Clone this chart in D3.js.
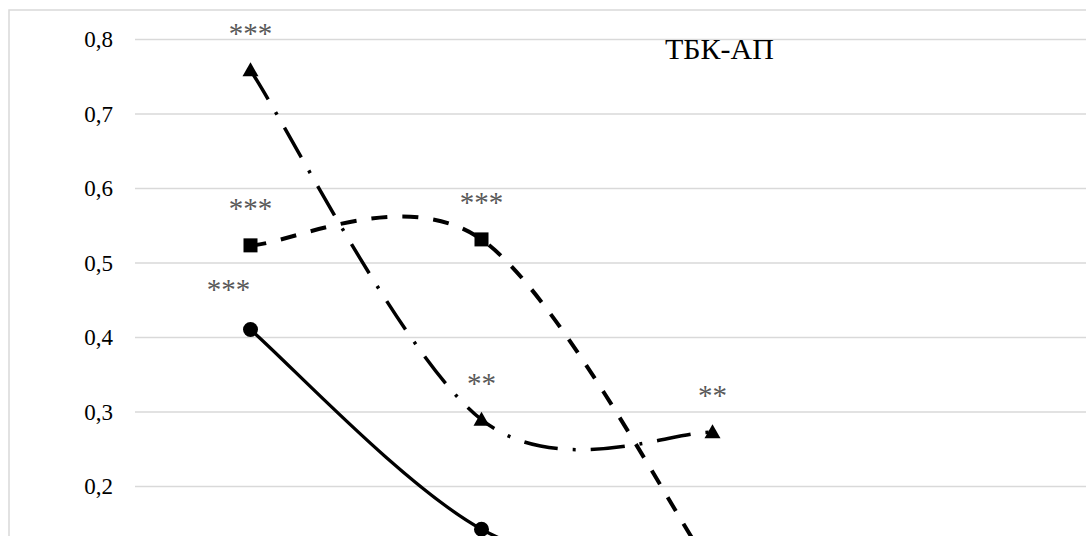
<!DOCTYPE html>
<html>
<head>
<meta charset="utf-8">
<script src="https://cdn.jsdelivr.net/npm/d3@7"></script>
<style>
  html, body { margin: 0; padding: 0; background: #fff; overflow: hidden; }
  svg { display: block; }
  svg text { font-family: "Times New Roman", "Liberation Serif", serif !important; }
</style>
</head>
<body>
<svg id="chart" width="1086" height="536"></svg>
<script>
// ---- data ----
const categories = ["1", "2", "3", "4", "5"];
const yTicks = [0.2, 0.3, 0.4, 0.5, 0.6, 0.7, 0.8];
const circleValues   = [0.41, 0.142, 0.067, null, null];
const squareValues   = [0.523, 0.531, 0.087, null, null];
const triangleValues = [0.758, 0.289, 0.272, null, null];
const circleLabels   = ["***", "", "", "", ""];
const squareLabels   = ["***", "***", "", "", ""];
const triangleLabels = ["***", "**", "**", "", ""];
const chartTitle = "ТБК-АП";

// ---- layout ----
const svg = d3.select("#chart");
const plotLeft = 135, band = 231;
const x = d3.scaleBand().domain(categories).range([plotLeft, plotLeft + band * categories.length]).padding(0);
const cx = c => x(c) + x.bandwidth() / 2;
const y = d3.scaleLinear().domain([0, 0.8]).range([635, 39]);

// chart border
svg.append("rect").attr("x", 9).attr("y", 10).attr("width", 1300).attr("height", 800)
  .attr("fill", "none").attr("stroke", "#d9d9d9").attr("stroke-width", 1.5);

// gridlines + y axis labels
const yAxis = d3.axisLeft(y).tickValues(yTicks).tickSize(-(band * categories.length))
  .tickFormat(d => d3.format(".1f")(d).replace(".", ","));
const gAxis = svg.append("g").attr("transform", `translate(${plotLeft},0)`).call(yAxis);
gAxis.attr("font-family", null).attr("font-size", null);
gAxis.select(".domain").remove();
gAxis.selectAll(".tick line").attr("stroke", "#d9d9d9").attr("stroke-width", 1.5);
gAxis.selectAll(".tick text").attr("x", -22).attr("dy", "0.34em")
  .style("font-size", "23px").attr("fill", "#000");

// Excel-like smoothing curve
function curveExcel(context) {
  let pts = [];
  return {
    areaStart() {}, areaEnd() {},
    lineStart() { pts = []; },
    point(px, py) { pts.push([+px, +py]); },
    lineEnd() {
      const n = pts.length;
      if (!n) return;
      context.moveTo(pts[0][0], pts[0][1]);
      for (let i = 0; i < n - 1; i++) {
        const p0 = pts[Math.max(i - 1, 0)], p1 = pts[i], p2 = pts[i + 1], p3 = pts[Math.min(i + 2, n - 1)];
        context.bezierCurveTo(
          p1[0] + (p2[0] - p0[0]) / 6, p1[1] + (p2[1] - p0[1]) / 6,
          p2[0] - (p3[0] - p1[0]) / 6, p2[1] - (p3[1] - p1[1]) / 6,
          p2[0], p2[1]);
      }
    }
  };
}

const line = d3.line()
  .defined(d => d.v != null)
  .x(d => cx(d.c)).y(d => y(d.v))
  .curve(curveExcel);

const toPts = vals => categories.map((c, i) => ({ c, v: vals[i] }));

const series = [
  { vals: squareValues, labels: squareLabels, dash: "16 15", width: 4, marker: "square" },
  { vals: triangleValues, labels: triangleLabels, dash: "34 15 3 15", width: 3.5, marker: "triangle" },
  { vals: circleValues, labels: circleLabels, dash: null, width: 3.3, marker: "circle" }
];

series.forEach(s => {
  const p = svg.append("path").datum(toPts(s.vals)).attr("d", line)
    .attr("fill", "none").attr("stroke", "#000").attr("stroke-width", s.width);
  if (s.dash) p.attr("stroke-dasharray", s.dash);
});

series.forEach(s => {
  const pts = toPts(s.vals).filter(d => d.v != null);
  const g = svg.append("g");
  if (s.marker === "circle") {
    g.selectAll("circle").data(pts).join("circle")
      .attr("cx", d => cx(d.c)).attr("cy", d => y(d.v)).attr("r", 7.5).attr("fill", "#000");
  } else if (s.marker === "square") {
    g.selectAll("rect").data(pts).join("rect")
      .attr("x", d => cx(d.c) - 7).attr("y", d => y(d.v) - 7).attr("width", 14).attr("height", 14).attr("fill", "#000");
  } else {
    g.selectAll("path").data(pts).join("path")
      .attr("d", d => { const px = cx(d.c), py = y(d.v); return `M${px},${py - 8}L${px + 8},${py + 6}L${px - 8},${py + 6}Z`; })
      .attr("fill", "#000");
  }
});

// data labels
series.forEach(s => {
  const items = categories.map((c, i) => ({ c, v: s.vals[i], t: s.labels[i] })).filter(d => d.v != null && d.t);
  svg.append("g").selectAll("text").data(items).join("text")
    .attr("x", d => cx(d.c) + (s.marker === "circle" ? -22 : 0))
    .attr("y", d => y(d.v) - (s.marker === "circle" ? 45 : 41) + 14)
    .attr("text-anchor", "middle")
    .style("font-size", "29px").attr("fill", "#595959")
    .text(d => d.t);
});

// title inside plot
svg.append("text").attr("x", 665).attr("y", 59)
  .style("font-size", "30px").attr("fill", "#000").text(chartTitle);
</script>
</body>
</html>
